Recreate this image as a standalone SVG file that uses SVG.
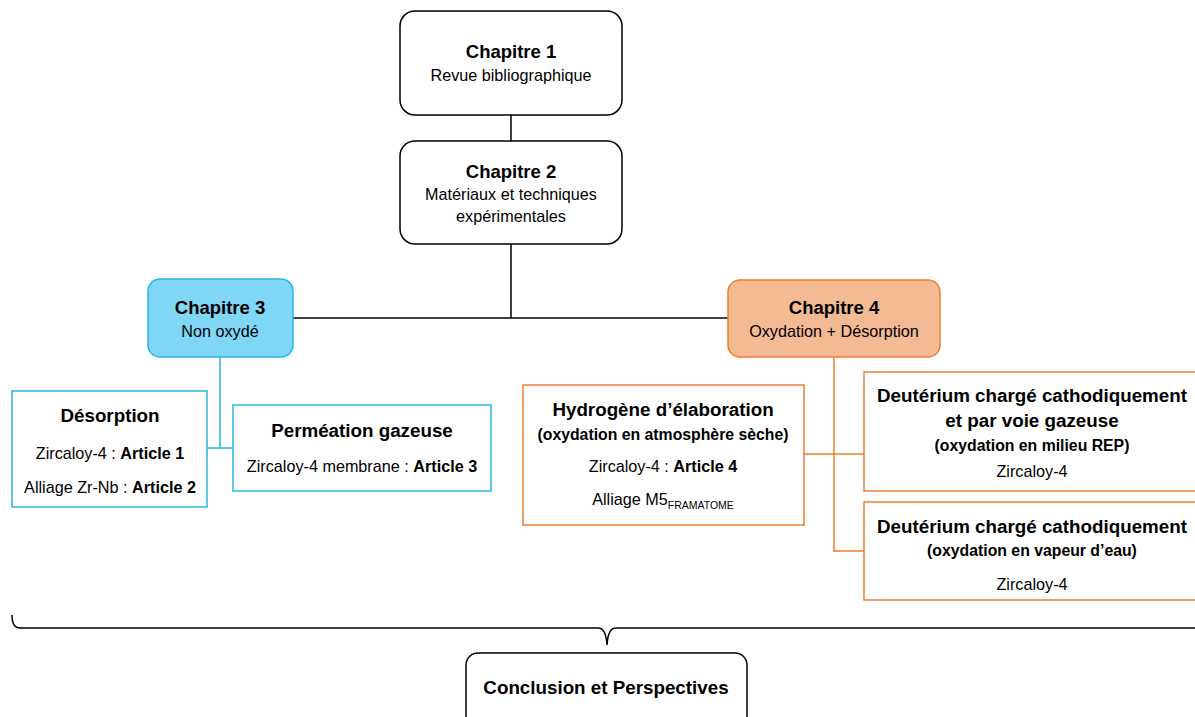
<svg xmlns="http://www.w3.org/2000/svg" width="1195" height="717" viewBox="0 0 1195 717">
<style>
text{font-family:"Liberation Sans","Open Sans",sans-serif;fill:#000;text-anchor:middle}
.t{font-weight:bold;font-size:18.5px}
.s{font-size:16.2px}
.h{font-weight:bold;font-size:18.8px}
.p{font-weight:bold;font-size:15.8px}
.bk{fill:#fff;stroke:#000;stroke-width:1.5}
.bl{fill:#fff;stroke:#29B5E8;stroke-width:1.5}
.or{fill:#fff;stroke:#ED7D31;stroke-width:1.5}
.ln{fill:none;stroke:#000;stroke-width:1.5}
.lb{fill:none;stroke:#29B5E8;stroke-width:1.5}
.lo{fill:none;stroke:#ED7D31;stroke-width:1.5}
</style>
<rect width="1195" height="717" fill="#fff"/>
<g id="connectors">
<path class="ln" d="M511 115V141M511 244V318M293 318H728"/>
<path class="lb" d="M220 357V448M207 448H233"/>
<path class="lo" d="M834 357V551H864M804 454H864"/>
<path class="ln" d="M12 615Q12 628 20 628H598Q606 628 607 645Q608 628 616 628H1195"/>
</g>
<g id="ch1">
<rect class="bk" x="400" y="11" width="222" height="104" rx="15"/>
<text class="t" x="511" y="58">Chapitre 1</text>
<text class="s" x="511" y="81">Revue bibliographique</text>
</g>
<g id="ch2">
<rect class="bk" x="400" y="141" width="222" height="103" rx="15"/>
<text class="t" x="511" y="178">Chapitre 2</text>
<text class="s" x="511" y="200">Matériaux et techniques</text>
<text class="s" x="511" y="222">expérimentales</text>
</g>
<g id="ch3">
<rect x="148" y="279" width="145" height="78" rx="12" fill="#7FD6F5" stroke="#29B5E8" stroke-width="1.5"/>
<text class="t" x="220" y="314">Chapitre 3</text>
<text class="s" x="220" y="337">Non oxydé</text>
</g>
<g id="ch4">
<rect x="728" y="280" width="212" height="77" rx="12" fill="#F4BA94" stroke="#ED7D31" stroke-width="1.5"/>
<text class="t" x="834" y="314">Chapitre 4</text>
<text class="s" x="834" y="337">Oxydation + Désorption</text>
</g>
<g id="desorption">
<rect class="bl" x="12" y="391" width="195" height="116"/>
<text class="h" x="110" y="422">Désorption</text>
<text class="s" x="110" y="459">Zircaloy-4 : <tspan font-weight="bold">Article 1</tspan></text>
<text class="s" x="110" y="493">Alliage Zr-Nb : <tspan font-weight="bold">Article 2</tspan></text>
</g>
<g id="permeation">
<rect class="bl" x="233" y="405" width="258" height="86"/>
<text class="h" x="362" y="437">Perméation gazeuse</text>
<text class="s" x="362" y="472">Zircaloy-4 membrane : <tspan font-weight="bold">Article 3</tspan></text>
</g>
<g id="hydrogene">
<rect class="or" x="523" y="385" width="281" height="140"/>
<text class="h" x="663" y="416">Hydrogène d’élaboration</text>
<text class="p" x="663" y="440">(oxydation en atmosphère sèche)</text>
<text class="s" x="663" y="472">Zircaloy-4 : <tspan font-weight="bold">Article 4</tspan></text>
<text class="s" x="663" y="505">Alliage M5<tspan font-size="10.5px" dy="4">FRAMATOME</tspan></text>
</g>
<g id="deut1">
<rect class="or" x="864" y="372" width="340" height="119"/>
<text class="h" x="1032" y="402">Deutérium chargé cathodiquement</text>
<text class="h" x="1032" y="427">et par voie gazeuse</text>
<text class="p" x="1032" y="451">(oxydation en milieu REP)</text>
<text class="s" x="1032" y="477">Zircaloy-4</text>
</g>
<g id="deut2">
<rect class="or" x="864" y="502" width="340" height="98"/>
<text class="h" x="1032" y="533">Deutérium chargé cathodiquement</text>
<text class="p" x="1032" y="556">(oxydation en vapeur d’eau)</text>
<text class="s" x="1032" y="590">Zircaloy-4</text>
</g>
<g id="conclusion">
<rect class="bk" x="466" y="653" width="281" height="80" rx="12"/>
<text class="h" x="606" y="694">Conclusion et Perspectives</text>
</g>
</svg>
